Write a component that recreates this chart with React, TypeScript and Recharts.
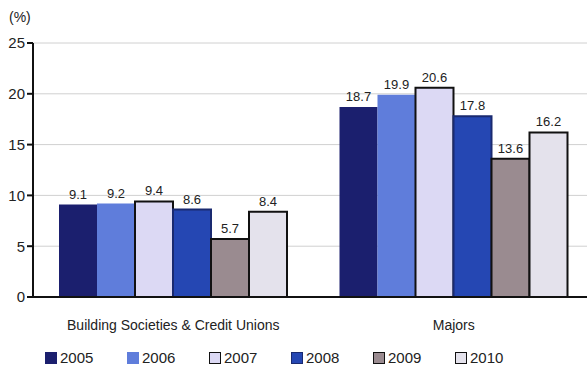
import React from 'react';
import { BarChart, Bar, XAxis, YAxis, CartesianGrid, Legend, LabelList } from 'recharts';

const categories = ['Building Societies & Credit Unions', 'Majors'];
const years = ['2005', '2006', '2007', '2008', '2009', '2010'];
const v2005 = [9.1, 18.7];
const v2006 = [9.2, 19.9];
const v2007 = [9.4, 20.6];
const v2008 = [8.6, 17.8];
const v2009 = [5.7, 13.6];
const v2010 = [8.4, 16.2];
const yTicks = [0, 5, 10, 15, 20, 25];

const FILLS = ['#1b1f6e', '#5f7ddb', '#dcd9f4', '#2547b3', '#9a8b90', '#e4e2ec'];
const STROKES = ['none', 'none', '#111', '#1a2a70', '#111', '#111'];

const seriesValues = [v2005, v2006, v2007, v2008, v2009, v2010];
const data = categories.map((name, i) => {
  const row: Record<string, string | number> = { name };
  years.forEach((y, k) => {
    row[y] = seriesValues[k][i];
  });
  return row;
});

const FONT = '"Liberation Sans", Arial, sans-serif';

function LegendBox() {
  return (
    <div style={{ position: 'relative', height: 35, fontFamily: FONT, fontSize: 15, color: '#222' }}>
      {years.map((y, k) => (
        <div
          key={y}
          style={{ position: 'absolute', left: 45 + k * 82, top: 12, display: 'flex', alignItems: 'center' }}
        >
          <span
            style={{
              display: 'inline-block',
              width: 10,
              height: 10,
              background: FILLS[k],
              border: STROKES[k] === 'none' ? '1px solid ' + FILLS[k] : '1.5px solid ' + STROKES[k],
              marginRight: 3,
            }}
          />
          <span>{y}</span>
        </div>
      ))}
    </div>
  );
}

export default function App() {
  return (
    <div style={{ position: 'absolute', left: 0, top: 0, width: 587, height: 372, overflow: 'hidden', background: '#fff' }}>
      <div style={{ position: 'absolute', left: 9, top: 9, fontFamily: FONT, fontSize: 14, color: '#222' }}>(%)</div>
      <BarChart
        width={600}
        height={372}
        data={data}
        margin={{ top: 43, right: 6, left: 0, bottom: 0 }}
        barGap={0}
        barCategoryGap={26}
      >
        <CartesianGrid vertical={false} stroke="#d0d0d0" />
        <XAxis
          dataKey="name"
          height={40}
          stroke="#111"
          strokeWidth={2}
          tickLine={false}
          tick={{ fontFamily: FONT, fontSize: 14, fill: '#222' }}
          tickMargin={17}
        />
        <YAxis
          width={33}
          domain={[0, 25]}
          ticks={yTicks}
          stroke="#111"
          strokeWidth={2}
          tickSize={6}
          tick={{ fontFamily: FONT, fontSize: 15, fill: '#222' }}
        />
        <Legend verticalAlign="bottom" align="left" height={35} content={() => <LegendBox />} />
        {years.map((y, k) => (
          <Bar
            key={y}
            dataKey={y}
            fill={FILLS[k]}
            stroke={STROKES[k]}
            strokeWidth={STROKES[k] === 'none' ? 0 : 2}
            isAnimationActive={false}
          >
            <LabelList dataKey={y} position="top" offset={6} style={{ fontFamily: FONT, fontSize: 13, fill: '#222' }} />
          </Bar>
        ))}
      </BarChart>
    </div>
  );
}
